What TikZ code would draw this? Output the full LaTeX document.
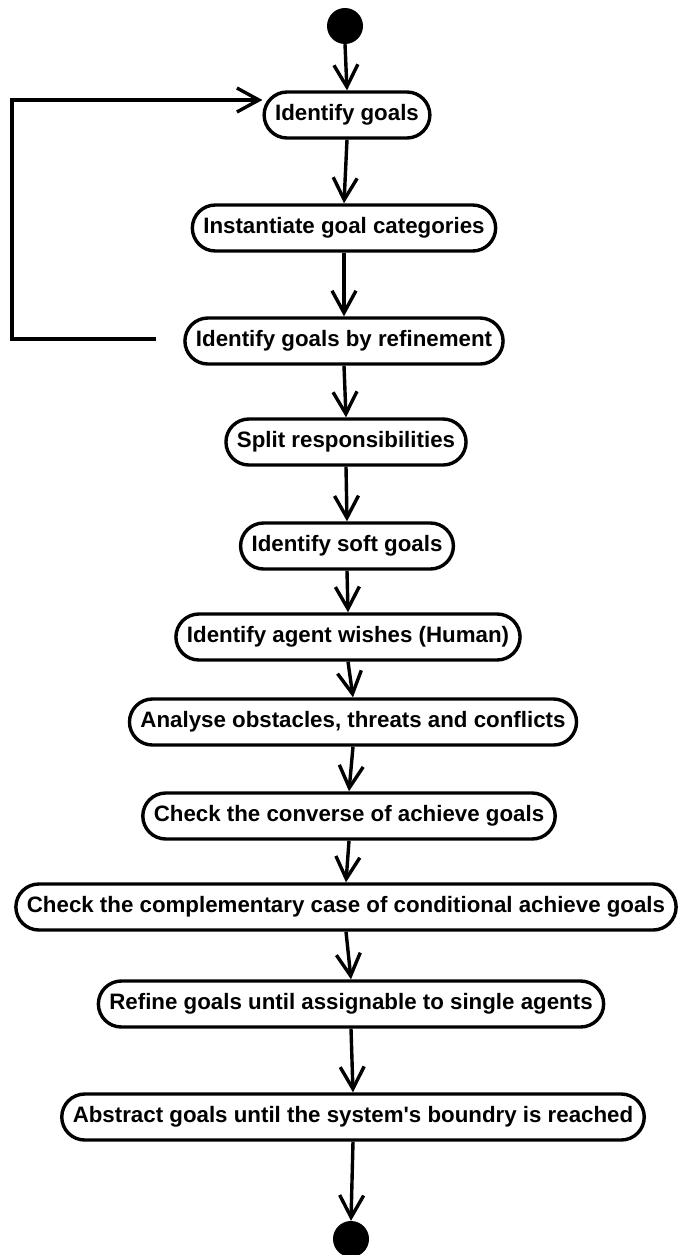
\documentclass[tikz,border=0pt]{standalone}
\usepackage{fontspec}
\setmainfont{Liberation Sans}
\usetikzlibrary{arrows.meta}
\begin{document}
\begin{tikzpicture}[x=1pt,y=-1pt,
  activity/.style={draw=black, line width=3.4pt, rectangle, rounded corners=23pt,
    minimum height=46pt, inner xsep=11pt, inner ysep=2pt, fill=white,
    font=\fontsize{22.3}{26}\selectfont\bfseries},
  terminal/.style={circle, fill=black, draw=none, minimum size=36pt, inner sep=0pt},
  flow/.style={line width=3.4pt, -{Straight Barb[length=22pt,width=24pt,line width=3.4pt]}}
]
\useasboundingbox (0,0) rectangle (678,1255);

% start and end markers
\node[terminal] (start) at (345,26) {};
\node[terminal] (finish) at (351,1239) {};

% activities
\node[activity] (n1)  at (347,115)  {Identify goals};
\node[activity] (n2)  at (344,228)  {Instantiate goal categories};
\node[activity] (n3)  at (344,341)  {Identify goals by refinement};
\node[activity] (n4)  at (346,442)  {Split responsibilities};
\node[activity] (n5)  at (347,546)  {Identify soft goals};
\node[activity] (n6)  at (348,637)  {Identify agent wishes (Human)};
\node[activity] (n7)  at (353,722)  {Analyse obstacles, threats and conflicts};
\node[activity] (n8)  at (349,816)  {Check the converse of achieve goals};
\node[activity] (n9)  at (346,907)  {Check the complementary case of conditional achieve goals};
\node[activity] (n10) at (351,1004) {Refine goals until assignable to single agents};
\node[activity] (n11) at (353,1117) {Abstract goals until the system\textquotesingle s boundry is reached};

% main flow
\draw[flow] (start.south) -- (n1.north);
\draw[flow] (n1.south) -- (n2.north);
\draw[flow] (n2.south) -- (n3.north);
\draw[flow] (n3.south) -- (n4.north);
\draw[flow] (n4.south) -- (n5.north);
\draw[flow] (n5.south) -- (n6.north);
\draw[flow] (n6.south) -- (n7.north);
\draw[flow] (n7.south) -- (n8.north);
\draw[flow] (n8.south) -- (n9.north);
\draw[flow] (n9.south) -- (n10.north);
\draw[flow] (n10.south) -- (n11.north);
\draw[flow] (n11.south) -- (finish.north);

% iteration back to the first activity
\coordinate (loopstart) at (156,339);
\coordinate (loopcorner) at (12,339);
\draw[flow] (loopstart) -- (loopcorner) |- ([yshift=15pt]n1.west);
\end{tikzpicture}
\end{document}
